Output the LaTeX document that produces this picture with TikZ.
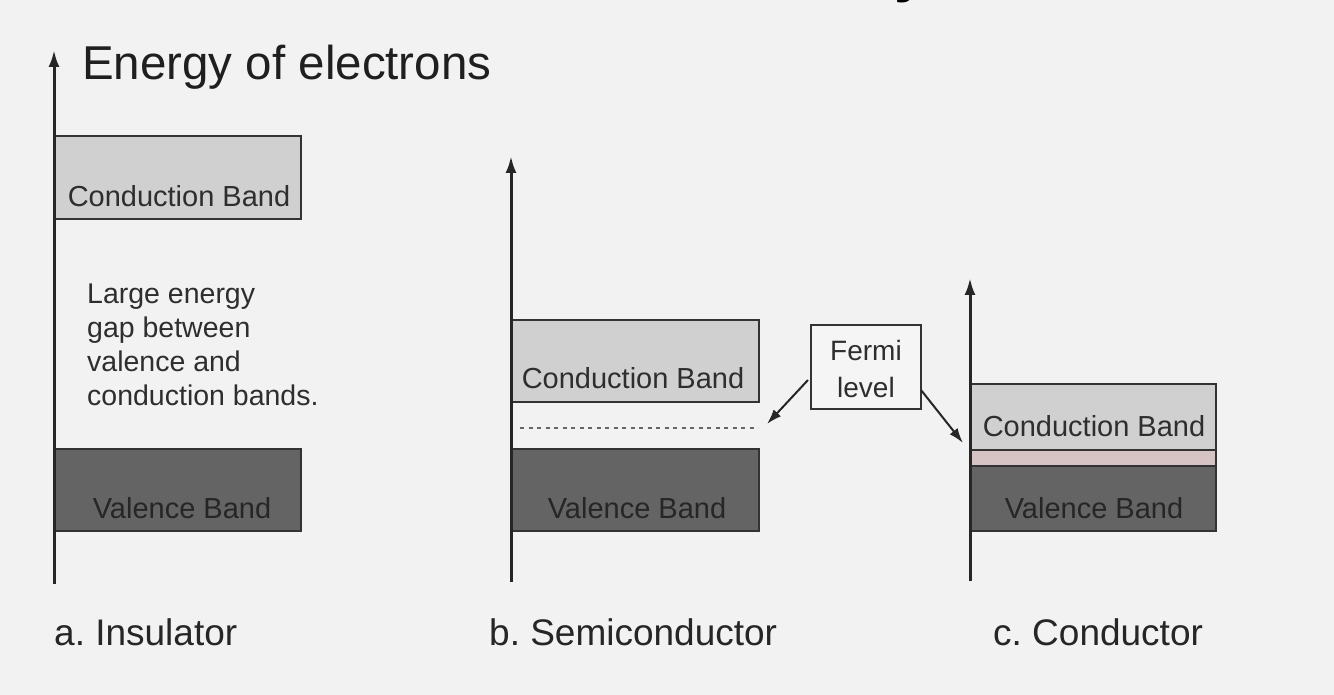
\documentclass[tikz,border=0pt]{standalone}
\usepackage{fontspec}
\setmainfont{Liberation Sans}
\usetikzlibrary{arrows.meta}
\definecolor{bg}{HTML}{F2F2F2}
\definecolor{cband}{HTML}{D0D0D0}
\definecolor{vband}{HTML}{646464}
\definecolor{edge}{HTML}{333333}
\definecolor{pinkband}{HTML}{D6C3C3}
\definecolor{txt}{HTML}{2E2E2E}
\frenchspacing
\tikzset{
  axis/.style={line width=3pt, draw=black!85, -{Latex[length=17pt,width=11pt]}},
  cbox/.style={draw=edge, line width=2pt, fill=cband},
  vbox/.style={draw=edge, line width=2pt, fill=vband},
  pbox/.style={draw=edge, line width=2pt, fill=pinkband},
  bandtxt/.style={inner sep=0pt, anchor=base, text=txt, font=\fontsize{29}{32}\selectfont},
  gaptxt/.style={inner sep=0pt, anchor=base west, text=txt, font=\fontsize{28.5}{34}\selectfont},
  captxt/.style={inner sep=0pt, anchor=base west, text=black!85, font=\fontsize{37}{40}\selectfont},
  fermibox/.style={draw=edge, line width=2pt, fill=white!96!black, minimum width=110pt, minimum height=84pt, inner sep=0pt},
  pointer/.style={line width=2pt, draw=black!85, -{Latex[length=15pt,width=10pt]}},
}
\begin{document}
\begin{tikzpicture}[x=1pt,y=-1pt]
\useasboundingbox[fill=bg] (0,0) rectangle (1334,695);
% cut-off title fragment
\node[inner sep=0pt, anchor=base west, font=\fontsize{60}{60}\selectfont\bfseries] (titlefrag) at (894,-9) {y};
% ---------- a. Insulator
\draw[cbox] (55,136) rectangle (301,219);
\draw[vbox] (55,449) rectangle (301,531);
\coordinate (aB) at (54,584);
\coordinate (aT) at (54,50);
\draw[axis] (aB) -- (aT);
\node[inner sep=0pt, anchor=base west, text=black!88, font=\fontsize{47.5}{50}\selectfont] (atitle) at (82,80) {Energy of electrons};
\node[bandtxt] (acb) at (179,207) {Conduction Band};
\node[bandtxt, text=black!85] (avb) at (182,518) {Valence Band};
\node[gaptxt] (agap) at (87,303) {Large energy};
\node[gaptxt] (agap2) at (87,337) {gap between};
\node[gaptxt] (agap3) at (87,371) {valence and};
\node[gaptxt] (agap4) at (87,405) {conduction bands.};
\node[captxt] (acap) at (54,645) {a. Insulator};
% ---------- b. Semiconductor
\draw[cbox] (512,320) rectangle (759,402);
\draw[vbox] (512,449) rectangle (759,531);
\coordinate (bB) at (511,582);
\coordinate (bT) at (511,156);
\draw[axis] (bB) -- (bT);
\node[bandtxt] (bcb) at (633,388) {Conduction Band};
\node[bandtxt, text=black!85] (bvb) at (637,518) {Valence Band};
\coordinate (dotL) at (520,428);
\coordinate (dotR) at (758,428);
\draw[line width=1.8pt, draw=black!60, dash pattern=on 4pt off 4.5pt] (dotL) -- (dotR);
\node[captxt] (bcap) at (489,645) {b. Semiconductor};
% Fermi label
\node[fermibox] (fermi) at (866,367) {};
\node[inner sep=0pt, anchor=base, text=txt, font=\fontsize{28}{30}\selectfont] (fermi1) at (866,360) {Fermi};
\node[inner sep=0pt, anchor=base, text=txt, font=\fontsize{28}{30}\selectfont] (fermi2) at (866,397) {level};
\coordinate (fermiL) at (808,380);
\coordinate (fermiR) at (921,390);
\coordinate (tipB) at (767,424);
\coordinate (tipC) at (963,443);
\draw[pointer] (fermiL) -- (tipB);
\draw[pointer] (fermiR) -- (tipC);
% ---------- c. Conductor
\draw[cbox] (971,384) rectangle (1216,450);
\draw[pbox] (971,450) rectangle (1216,466);
\draw[vbox] (971,466) rectangle (1216,531);
\coordinate (cB) at (970,581);
\coordinate (cT) at (970,278);
\draw[axis] (cB) -- (cT);
\node[bandtxt] (ccb) at (1094,436) {Conduction Band};
\node[bandtxt, text=black!85] (cvb) at (1094,518) {Valence Band};
\node[captxt] (ccap) at (993,645) {c. Conductor};
\end{tikzpicture}
\end{document}
